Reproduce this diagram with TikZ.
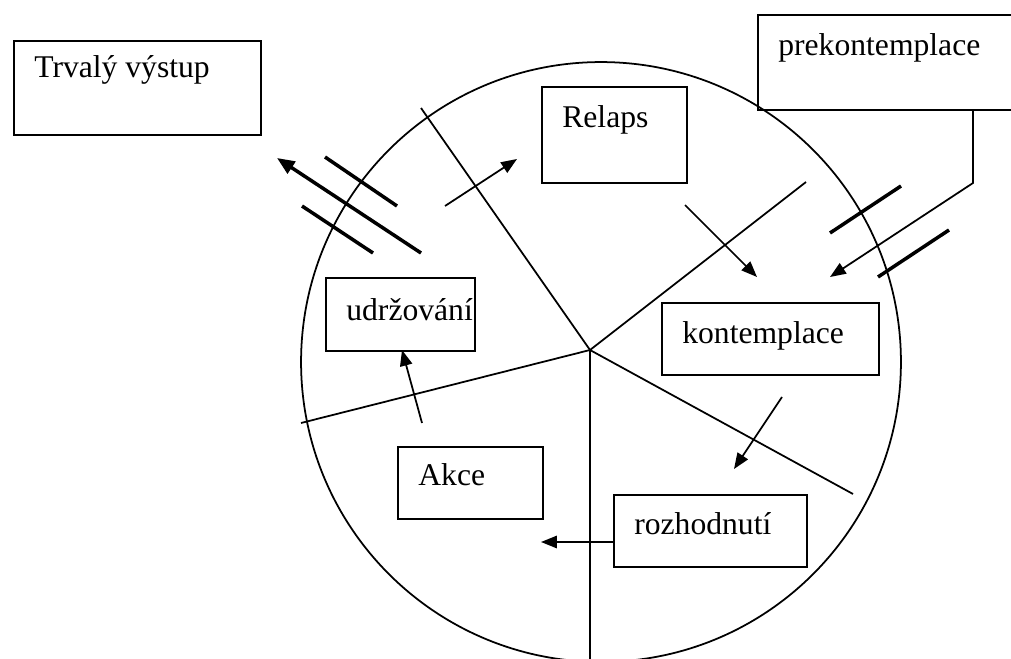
\documentclass[tikz,border=0pt]{standalone}
\usepackage{fontspec}
\setmainfont{Liberation Serif}
\usetikzlibrary{arrows.meta, positioning, calc}

\begin{document}
\begin{tikzpicture}[
  x=0.02cm, y=-0.02cm,
  box/.style={draw, line width=1pt, anchor=north west, inner sep=0pt},
  lbl/.style={font=\fontsize{18}{20}\selectfont, anchor=base west, inner sep=0pt},
  spoke/.style={line width=1pt},
  bar/.style={line width=2pt},
  arr/.style={line width=1pt, -{Triangle[length=9pt,width=7pt]}},
  bigarr/.style={line width=2pt, -{Triangle[length=10pt,width=8pt]}}
]
  \useasboundingbox (0,0) rectangle (1011,659);

  % wheel and its spokes
  \coordinate (c) at (590,350);
  \draw[line width=1pt] (601,362) circle [radius=6cm];
  \foreach \p in {(421,108),(806,182),(853,494),(590,662),(301,423)}
    \draw[spoke] (c) -- \p;

  % stage boxes
  \foreach \nm/\x/\y/\w/\h/\dy/\txt in {trvaly/13/40/247/94/37/Trvalý výstup,
      prekont/757/14/270/95/41/prekontemplace,
      relaps/541/86/145/96/41/Relaps,
      udrz/325/277/149/73/43/udržování,
      kontempl/661/302/217/72/41/kontemplace,
      akce/397/446/145/72/39/Akce,
      rozhod/613/494/193/72/40/rozhodnutí} {
    \node[box, minimum width=\w*0.02cm, minimum height=\h*0.02cm] (\nm) at (\x,\y) {};
    \node[lbl] (\nm-t) at ($(\nm.north west)+(21,\dy)$) {\txt};
  }

  % arrows
  \coordinate (r1) at (445,206);
  \coordinate (r2) at (517,159);
  \draw[arr] (r1) -- (r2);
  \coordinate (k1) at (685,205);
  \coordinate (k2) at (757,277);
  \draw[arr] (k1) -- (k2);
  \coordinate (p1) at ($(prekont.north west)+(216,95)$);
  \coordinate (p2) at (973,183);
  \coordinate (p3) at (830,277);
  \draw[arr] (p1) -- (p2) -- (p3);
  \coordinate (d1) at (782,397);
  \coordinate (d2) at (734,469);
  \draw[arr] (d1) -- (d2);
  \coordinate (a1) at ($(rozhod.north west)+(0,48)$);
  \coordinate (a2) at (541,542);
  \draw[arr] (a1) -- (a2);
  \coordinate (u1) at (422,423);
  \coordinate (u2) at ($(udrz.north west)+(77,73)$);
  \draw[arr] (u1) -- (u2);
  \coordinate (t1) at (421,253);
  \coordinate (t2) at (277,158);
  \draw[bigarr] (t1) -- (t2);

  % barriers
  \draw[bar] (325,157) -- (397,206);
  \draw[bar] (302,206) -- (373,253);
  \draw[bar] (830,233) -- (901,186);
  \draw[bar] (878,277) -- (949,230);
\end{tikzpicture}
\end{document}
